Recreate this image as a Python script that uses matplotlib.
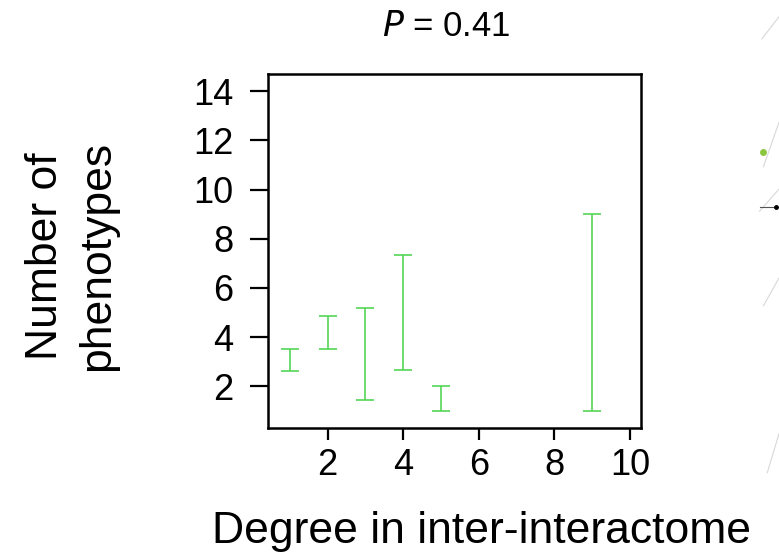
import matplotlib
matplotlib.use('Agg')
import matplotlib.pyplot as plt
from matplotlib.lines import Line2D

plt.rcParams['font.family'] = ['Liberation Sans', 'DejaVu Sans']

# error bar ranges
degree = [1, 2, 3, 4, 5, 9]
low = [2.6, 3.5, 1.45, 2.65, 1.0, 1.0]
high = [3.5, 4.85, 5.2, 7.35, 2.0, 9.0]

xticks = [2, 4, 6, 8, 10]
yticks = [2, 4, 6, 8, 10, 12, 14]

mid = [(a + b) / 2 for a, b in zip(low, high)]
err = [(b - a) / 2 for a, b in zip(low, high)]

fig = plt.figure(figsize=(7.79, 5.56), dpi=100)
ax = fig.add_axes([0.3444, 0.2302, 0.4784, 0.6367])

ax.errorbar(degree, mid, yerr=err, fmt='none', ecolor='#55d555',
            elinewidth=1.2, capsize=6.8, capthick=1.2)

ax.set_xlim(0.43, 10.29)
ax.set_ylim(0.3, 14.7)
ax.set_xticks(xticks)
ax.set_yticks(yticks)
for s in ax.spines.values():
    s.set_linewidth(1.8)
ax.tick_params(axis='y', length=13, width=1.6, pad=12, labelsize=26)
ax.tick_params(axis='x', length=8.5, width=1.6, pad=6, labelsize=26)

fig.text(0.5725, 0.935, r'$\it{P}$ = 0.41', ha='center', va='baseline', fontsize=25)
fig.text(0.618, 0.0234, 'Degree in inter-interactome', ha='center', va='baseline', fontsize=32)
fig.text(0.092, 0.54, 'Number of\nphenotypes', ha='center', va='center',
         rotation=90, fontsize=32, linespacing=1.35)

# bits of the neighbouring panel at the right edge
for x0, y0, x1, y1 in [(0.978, 0.93, 1.0, 0.97), (0.975, 0.62, 1.0, 0.66),
                       (0.98, 0.45, 1.0, 0.50), (0.98, 0.70, 1.0, 0.78),
                       (0.985, 0.15, 1.0, 0.22)]:
    fig.add_artist(Line2D([x0, x1], [y0, y1], color='#d8d8d8', lw=0.8))
fig.add_artist(Line2D([0.976, 1.0], [0.628, 0.628], color='#555555', lw=0.8))
fig.add_artist(Line2D([0.996], [0.628], marker='o', ms=2.5, color='black'))
fig.add_artist(Line2D([0.979], [0.726], marker='o', ms=5, color='#8cc63f', mec='none'))

fig.savefig('out.png', dpi=100)
